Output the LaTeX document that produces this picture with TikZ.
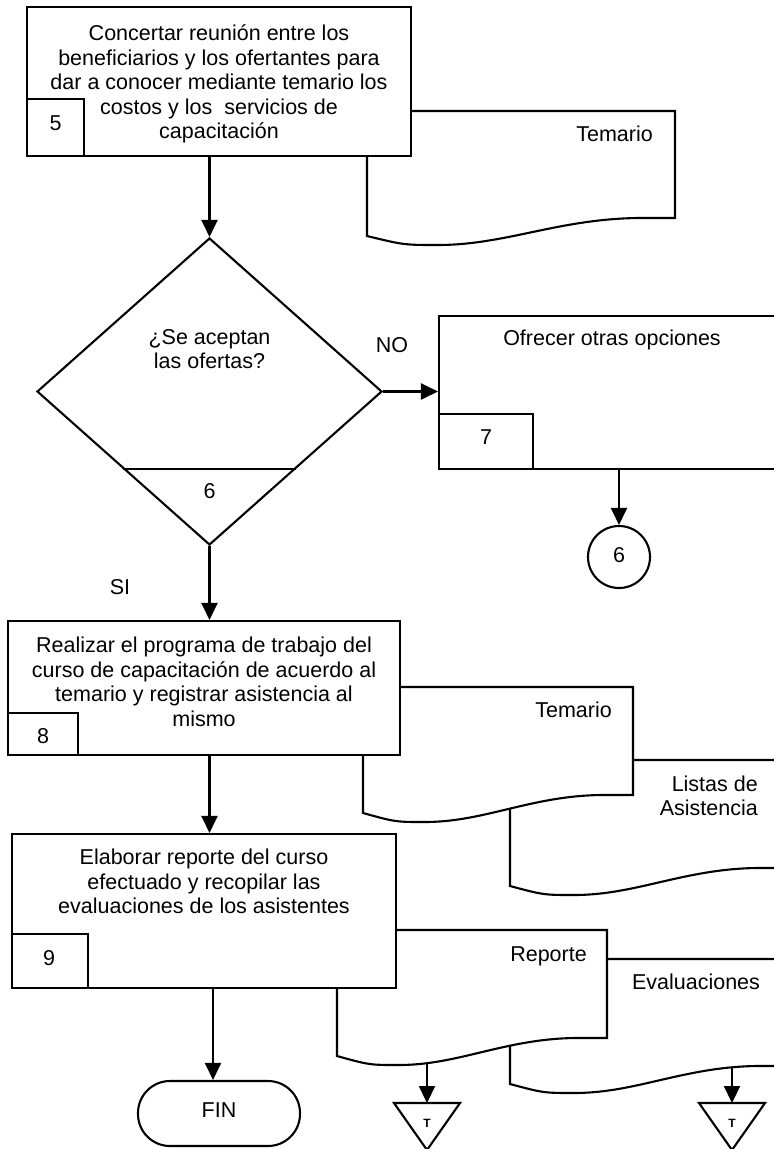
\documentclass[tikz,border=0pt]{standalone}
\usepackage{fontspec}
\setmainfont{Liberation Sans}
\usetikzlibrary{shapes.geometric,arrows.meta,calc}
\tikzset{
  boxst/.style={draw, line width=2.1pt, fill=white, rectangle, inner sep=0pt},
  txt/.style={inner sep=0pt, font=\fontsize{21.5}{24.5}\selectfont, align=center},
  arr/.style={line width=2.1pt, arrows={-{Triangle[length=17pt,width=16pt]}}},
  docst/.style={draw, line width=2.1pt, fill=white, line join=miter},
  tst/.style={inner sep=0pt, font=\fontsize{12}{14}\selectfont\bfseries},
}
% #1 left x, #2 right x, #3 top y, #4 bottom-left y
\newcommand\mydocshape[4]{%
  \path[docst] (#1,#3) -- (#2,#3) -- (#2,{#4-18})
    -- ({#1+0.88*(#2-#1)},{#4-18})
    .. controls ({#1+0.62*(#2-#1)},{#4-17}) and ({#1+0.45*(#2-#1)},{#4+9}) ..
    ({#1+0.23*(#2-#1)},{#4+9})
    .. controls ({#1+0.12*(#2-#1)},{#4+9}) .. (#1,#4) -- cycle;%
}
\begin{document}
\begin{tikzpicture}[x=1pt,y=-1pt]
\useasboundingbox (0,0) rectangle (774,1149);
\clip (0,0) rectangle (774,1149);

% ---- step 5 ----
\mydocshape{367}{675}{111}{236}
\node[txt, anchor=base east] (tem1) at (653,141) {Temario};
\node[boxst, minimum width=384pt, minimum height=149pt] (b5) at (219,81.5) {};
\node[boxst, minimum width=57pt, minimum height=57pt, anchor=south west] (n5) at (b5.south west) {};
\node[txt, anchor=base] (l5) at (55.5,130) {5};
\node[txt] (t5) at (219,84) {Concertar reunión entre los\\beneficiarios y los ofertantes para\\dar a conocer mediante temario los\\costos y los\ \ servicios de\\capacitación};

% ---- decision 6 ----
\node[draw, line width=2.1pt, diamond, inner sep=0pt, minimum width=345pt, minimum height=307pt, fill=white] (d) at (209.5,391.5) {};
\draw[line width=2.1pt] ($(d.south)!0.5!(d.west)$) -- ($(d.south)!0.5!(d.east)$);
\node[txt] (td) at (209.5,349) {¿Se aceptan\\las ofertas?};
\node[txt, anchor=base] (l6) at (209.5,498) {6};
\node[txt, anchor=base] (no) at (392,352) {NO};
\node[txt, anchor=base] (si) at (120,594) {SI};

% ---- step 7 ----
\node[boxst, minimum width=351pt, minimum height=153pt] (b7) at (614.5,392.5) {};
\node[boxst, minimum width=94pt, minimum height=55pt, anchor=south west] (n7) at (b7.south west) {};
\node[txt, anchor=base] (l7) at (486,444) {7};
\node[txt, anchor=base] (t7) at (612,345) {Ofrecer otras opciones};
\node[draw, line width=2.1pt, circle, inner sep=0pt, minimum size=62pt] (c6) at (619,557) {};
\node[txt, anchor=base] (lc6) at (619,562) {6};

% ---- step 8 ----
\mydocshape{510}{790}{760}{886}
\node[txt, align=right, anchor=east] (lis) at (758,796) {Listas de\\Asistencia};
\mydocshape{363}{633}{687}{813}
\node[txt, anchor=base east] (tem2) at (612,717) {Temario};
\node[boxst, minimum width=392pt, minimum height=134pt] (b8) at (204,688) {};
\node[boxst, minimum width=70pt, minimum height=42pt, anchor=south west] (n8) at (b8.south west) {};
\node[txt, anchor=base] (l8) at (43,743) {8};
\node[txt] (t8) at (204,682) {Realizar el programa de trabajo del\\curso de capacitación de acuerdo al\\temario y registrar asistencia al\\mismo};

% ---- step 9 ----
\mydocshape{510}{790}{959}{1084}
\node[txt, anchor=base] (eva) at (696,989) {Evaluaciones};
\mydocshape{337}{607}{930}{1056}
\node[txt, anchor=base east] (rep) at (587,961) {Reporte};
\node[boxst, minimum width=384pt, minimum height=154pt] (b9) at (204,911) {};
\node[boxst, minimum width=76pt, minimum height=54pt, anchor=south west] (n9) at (b9.south west) {};
\node[txt, anchor=base] (l9) at (49,965) {9};
\node[txt] (t9) at (204,881.5) {Elaborar reporte del curso\\efectuado y recopilar las\\evaluaciones de los asistentes};

% ---- end ----
\node[draw, line width=2.1pt, rectangle, rounded corners=32pt, inner sep=0pt, minimum width=162pt, minimum height=65pt] (fin) at (219,1113.5) {};
\node[txt, anchor=base] (tfin) at (219,1117) {FIN};

% ---- archive triangles ----
\draw[line width=2.1pt, line join=miter] (394,1103) -- (460,1103) -- (427,1150) -- cycle;
\coordinate (tr1) at (427,1103);
\node[tst, anchor=base] (T1) at (427,1127) {T};
\draw[line width=2.1pt, line join=miter] (699,1103) -- (765,1103) -- (732,1150) -- cycle;
\coordinate (tr2) at (732,1103);
\node[tst, anchor=base] (T2) at (732,1127) {T};
\coordinate (rb) at (427,1064);
\coordinate (eb) at (732,1068);
\coordinate (f9) at (213,988);

% ---- connectors ----
\draw[arr] (d.north |- b5.south) -- (d.north);
\draw[arr] (d.east) -- (d.east -| b7.west);
\draw[arr] (c6.north |- b7.south) -- (c6.north);
\draw[arr] (d.south) -- (d.south |- b8.north);
\draw[arr] (d.south |- b8.south) -- (d.south |- b9.north);
\draw[arr] (f9) -- (f9 |- fin.north);
\draw[arr] (rb) -- (tr1);
\draw[arr] (eb) -- (tr2);
\end{tikzpicture}
\end{document}
